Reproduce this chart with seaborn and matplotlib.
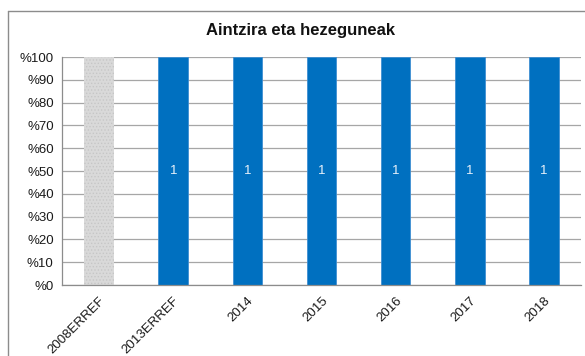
import matplotlib
matplotlib.use("Agg")
import matplotlib.pyplot as plt
import seaborn as sns
import numpy as np
from matplotlib.lines import Line2D
from matplotlib.ticker import FixedLocator

sns.set_style("white")
plt.rcParams["font.family"] = ["Liberation Sans", "DejaVu Sans"]
plt.rcParams["hatch.linewidth"] = 0.6

# Share of the category per year (1 = 100 %)
categories = ["2008ERREF", "2013ERREF", "2014", "2015", "2016", "2017", "2018"]
shares = [1, 1, 1, 1, 1, 1, 1]
bar_labels = ["", "1", "1", "1", "1", "1", "1"]
bar_colors = ["#D9D9D9", "#0070C0", "#0070C0", "#0070C0", "#0070C0", "#0070C0", "#0070C0"]
ytick_values = [0.0, 0.1, 0.2, 0.3, 0.4, 0.5, 0.6, 0.7, 0.8, 0.9, 1.0]
ytick_labels = ["%0", "%10", "%20", "%30", "%40", "%50", "%60", "%70", "%80", "%90", "%100"]
title = "Aintzira eta hezeguneak"

fig = plt.figure(figsize=(5.85, 3.56), dpi=100)
ax = fig.add_axes([62 / 585, 1 - 285 / 356, (581 - 62) / 585, (285 - 57) / 356])

sns.barplot(x=categories, y=shares, hue=categories, palette=bar_colors,
            legend=False, width=0.4, ax=ax, saturation=1, linewidth=0)

# reference bar gets a fine stipple
ax.patches[0].set_hatch(".....")
ax.patches[0].set_edgecolor("#C6C6C6")
for p in ax.patches[1:]:
    p.set_edgecolor("#3F8FD2")
    p.set_linewidth(0.6)

for i, (v, lab) in enumerate(zip(shares, bar_labels)):
    if lab:
        ax.text(i, v / 2, lab, ha="center", va="center", color="#E8F1FA", fontsize=9.5)

ax.set_xlim(-0.5, len(categories) - 0.5)
ax.set_ylim(0, 1)
ax.set_yticks(ytick_values)
ax.set_yticklabels(ytick_labels, fontsize=9.5, color="#1A1A1A")
ax.set_xticks(range(len(categories)))
ax.set_xticklabels(categories, rotation=45, ha="right", rotation_mode="anchor",
                   fontsize=9.5, color="#1A1A1A")
ax.tick_params(axis="x", which="major", length=0, pad=7)
ax.xaxis.set_minor_locator(FixedLocator(np.arange(-0.5, len(categories), 1.0)))
ax.tick_params(axis="x", which="minor", length=4, color="#8C8C8C", width=0.8)
ax.tick_params(axis="y", which="major", length=4, color="#8C8C8C", width=0.8, pad=2)

ax.set_axisbelow(True)
ax.yaxis.grid(True, color="#A6A6A6", linewidth=0.9)
ax.xaxis.grid(False)
for side in ["top", "right"]:
    ax.spines[side].set_visible(False)
for side in ["left", "bottom"]:
    ax.spines[side].set_color("#8C8C8C")
    ax.spines[side].set_linewidth(0.9)
ax.set_xlabel("")
ax.set_ylabel("")

fig.text(300 / 585, 1 - 31 / 356, title, ha="center", va="center",
         fontsize=12, fontweight="bold", color="#111111")

# outer chart frame
fig.add_artist(Line2D([8 / 585, 1.0], [1 - 11 / 356, 1 - 11 / 356],
                      transform=fig.transFigure, color="#8C8C8C", linewidth=1))
fig.add_artist(Line2D([8 / 585, 8 / 585], [0, 1 - 11 / 356],
                      transform=fig.transFigure, color="#8C8C8C", linewidth=1))

fig.savefig("out.png", dpi=100)
